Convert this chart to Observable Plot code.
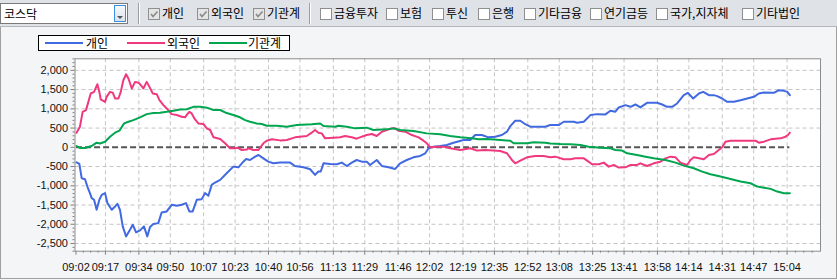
<!DOCTYPE html>
<html><head><meta charset="utf-8">
<script src="https://cdn.jsdelivr.net/npm/d3@7"></script>
<script src="https://cdn.jsdelivr.net/npm/@observablehq/plot@0.6"></script>
<style>
body{margin:0;width:837px;height:280px;overflow:hidden;position:relative;background:#f4f5f7;font-family:"Noto Sans CJK KR","Noto Sans",sans-serif;}
#toolbar{position:absolute;left:0;top:0;width:837px;height:26px;background:#dfe2e7;border-bottom:1px solid #b4b8be;}
.cb{position:absolute;top:8px;width:10px;height:10px;border:1px solid #8f8f8f;background:#fff;}
.cb.on{background:#e4e4e4;}
.cb svg{position:absolute;left:0;top:0;}
.lbl{position:absolute;top:4px;font-size:12px;line-height:18px;color:#000;white-space:nowrap;}
.sep{position:absolute;top:3px;width:1px;height:21px;background:#9a9ea4;border-right:1px solid #fff;}
#combo{position:absolute;left:0;top:3px;width:126px;height:19px;border:1px solid #7a7a7a;background:#fff;}
#combo .t{position:absolute;left:3px;top:0;font-size:12px;line-height:19px;}
#combo .btn{position:absolute;right:1px;top:1px;width:10px;height:15px;border:1px solid #3d8ee0;background:linear-gradient(#f6f9fc,#d9e2ec);}
#panel{position:absolute;left:0;top:27px;width:835px;height:251px;border:1px solid #a0a0a0;border-top:none;}
#chart{position:absolute;left:0;top:27px;}
#legend{position:absolute;left:38px;top:35px;width:250px;height:14px;border:1px solid #000;background:#fff;}
#legend .ln{position:absolute;top:6px;width:38px;height:2px;}
#legend .tx{position:absolute;top:-2px;font-size:12px;line-height:17px;color:#000;white-space:nowrap;}
</style>
</head><body>
<div id="toolbar">
  <div id="combo"><span class="t">코스닥</span><div class="btn"><svg width="10" height="15"><path d="M2 6 L8 6 L5 9 Z" fill="#555"/></svg></div></div>
  <div class="sep" style="left:138px"></div>
  <div id="filters"></div>
  <div class="sep" style="left:309px"></div>
</div>
<div id="panel"></div>
<div id="chart"></div>
<div id="legend"></div>
<script>
// ---- data ----
const seriesNames = ["개인", "외국인", "기관계"];
// [minutes after 09:00, net amount]
const individual = [[2.3,-390],[3.7,-430],[4.9,-803],[6.6,-830],[7.8,-1020],[9.1,-1191],[10.0,-1321],[11.2,-1364],[12.5,-1624],[13.9,-1364],[15.1,-1235],[16.8,-1191],[18.0,-1450],[20.2,-1624],[21.9,-1537],[23.1,-1468],[24.4,-1624],[25.8,-2056],[27.5,-2315],[29.5,-2142],[30.9,-2013],[32.6,-2211],[34.6,-2160],[36.6,-2056],[38.3,-2315],[39.7,-2073],[41.4,-1995],[43.9,-1970],[45.6,-1693],[48.2,-1667],[50.7,-1494],[53.3,-1520],[55.8,-1494],[58.0,-1450],[59.7,-1667],[61.4,-1667],[63.5,-1364],[66.0,-1347],[67.7,-1191],[69.4,-1260],[71.1,-976],[72.8,-916],[75.4,-847],[78.7,-673],[82.1,-502],[84.7,-520],[87.2,-373],[88.6,-305],[90.6,-330],[93.2,-243],[94.9,-200],[97.4,-287],[99.9,-373],[102.5,-416],[105.9,-398],[111.0,-398],[113.5,-485],[117.8,-520],[121.2,-570],[123.7,-717],[125.4,-630],[126.6,-630],[128.0,-416],[131.4,-433],[134.8,-442],[137.3,-398],[139.9,-485],[142.4,-398],[144.9,-330],[147.5,-373],[150.0,-373],[151.7,-459],[155.1,-330],[157.7,-485],[161.1,-520],[164.5,-563],[167.0,-416],[170.4,-330],[173.8,-260],[177.2,-225],[179.8,-155],[181.5,-26],[184.0,17],[187.4,34],[190.8,60],[194.2,120],[199.3,190],[202.7,190],[205.2,319],[208.6,319],[212.0,259],[215.4,276],[218.8,319],[221.4,406],[223.1,552],[225.6,690],[228.2,690],[230.7,600],[233.3,535],[240.9,535],[243.4,578],[247.7,578],[250.3,665],[255.4,665],[257.1,640],[260.5,665],[263.9,837],[267.3,862],[271.5,855],[274.1,950],[276.6,925],[278.3,1036],[281.7,1096],[284.3,1052],[286.8,1113],[289.3,1036],[292.7,1156],[297.8,1156],[300.4,1113],[302.9,1052],[305.5,1052],[308.0,1139],[311.4,1355],[313.5,1415],[316.2,1268],[319.1,1398],[321.3,1441],[324.2,1355],[326.7,1355],[328.4,1329],[330.9,1268],[333.5,1182],[336.9,1182],[340.3,1225],[343.7,1268],[347.1,1312],[349.6,1398],[352.2,1424],[357.3,1415],[359.8,1484],[362.4,1467],[364.1,1441],[365.4,1355]];
const foreign = [[2.3,378],[4.0,534],[5.4,922],[7.1,966],[8.3,1181],[9.5,1398],[11.2,1440],[12.9,1639],[13.9,1440],[14.6,1243],[16.8,1181],[17.6,1311],[19.3,1440],[20.7,1420],[21.9,1269],[23.6,1269],[24.8,1440],[26.1,1743],[27.5,1898],[28.7,1787],[30.4,1528],[32.1,1700],[33.8,1680],[34.6,1640],[36.3,1528],[38.0,1700],[39.4,1570],[41.1,1398],[43.1,1380],[44.5,1225],[46.5,1096],[48.2,1010],[50.7,862],[53.3,840],[55.8,793],[57.5,780],[58.4,840],[59.7,922],[60.9,880],[62.6,725],[64.3,621],[66.9,605],[68.6,492],[70.3,450],[72.0,259],[75.4,215],[77.9,104],[80.4,-26],[83.0,-26],[84.2,-10],[86.4,-70],[88.9,-60],[89.8,-26],[92.3,-70],[94.9,-70],[97.4,104],[99.1,172],[101.7,207],[105.9,180],[109.3,190],[113.5,259],[119.5,294],[122.0,380],[123.7,450],[125.4,380],[127.1,362],[128.8,233],[133.1,250],[136.5,259],[139.0,294],[142.4,259],[144.9,224],[147.5,276],[150.0,319],[152.6,345],[155.1,294],[157.7,406],[160.2,450],[162.8,492],[164.5,492],[166.2,432],[169.6,406],[173.0,319],[176.4,259],[178.9,172],[180.6,104],[182.3,0],[185.7,17],[189.1,17],[192.5,-26],[197.6,-70],[202.7,-26],[206.1,-86],[210.3,-70],[214.6,-86],[218.0,-95],[221.4,-155],[223.9,-329],[225.6,-415],[228.2,-347],[231.6,-260],[235.8,-225],[240.0,-225],[243.5,-260],[246.0,-243],[250.3,-312],[253.7,-312],[256.2,-286],[260.5,-286],[262.2,-347],[264.7,-441],[268.1,-441],[270.7,-398],[273.2,-502],[275.8,-459],[278.3,-528],[281.7,-520],[284.3,-459],[287.6,-459],[289.3,-416],[292.7,-485],[296.1,-416],[299.5,-373],[302.1,-287],[304.6,-243],[307.2,-260],[309.7,-398],[313.1,-459],[314.8,-330],[316.5,-260],[319.1,-287],[321.6,-312],[324.2,-200],[326.7,-173],[329.2,-70],[331.0,0],[332.6,147],[335.2,172],[342.0,172],[347.9,172],[349.6,120],[352.2,147],[355.6,207],[360.7,233],[363.2,276],[364.4,319],[365.4,380]];
const institution = [[2.3,34],[4.0,-18],[6.6,-18],[10.0,34],[12.5,120],[14.2,100],[16.8,146],[19.3,276],[21.9,380],[24.1,432],[26.5,621],[28.7,665],[31.2,707],[34.6,777],[38.0,862],[41.4,890],[44.8,900],[48.2,922],[51.6,950],[55.0,984],[58.4,990],[61.8,1052],[65.2,1052],[68.6,1030],[72.0,970],[75.4,970],[78.7,890],[82.1,840],[85.5,780],[88.1,707],[90.6,665],[94.0,620],[96.6,605],[99.1,560],[104.2,560],[109.3,535],[114.4,578],[122.0,600],[126.3,620],[128.0,552],[133.9,535],[135.6,560],[139.9,535],[144.1,492],[150.0,510],[153.4,450],[160.2,466],[163.6,492],[167.0,450],[173.8,423],[180.6,362],[187.4,337],[192.5,294],[197.6,259],[203.5,233],[206.9,207],[211.2,215],[218.0,190],[223.1,172],[224.8,104],[231.6,104],[235.0,130],[240.9,120],[243.5,100],[248.6,86],[253.7,78],[258.8,60],[263.0,17],[269.0,-9],[274.1,-26],[276.6,-70],[280.0,-86],[282.6,-155],[287.6,-200],[291.9,-243],[296.1,-287],[302.1,-330],[307.2,-398],[311.4,-476],[316.5,-545],[320.8,-632],[325.0,-700],[330.1,-761],[335.2,-822],[340.3,-890],[345.4,-934],[348.8,-1020],[355.6,-1080],[359.0,-1150],[362.4,-1194],[365.4,-1194]];
const tickLabels = ["09:02","09:17","09:34","09:50","10:07","10:23","10:40","10:56","11:13","11:29","11:46","12:02","12:19","12:35","12:52","13:08","13:25","13:41","13:58","14:14","14:31","14:47","15:04"];
const yTicks = [-2500,-2000,-1500,-1000,-500,0,500,1000,1500,2000];
const filterLabels = ["개인","외국인","기관계","금융투자","보험","투신","은행","기타금융","연기금등","국가,지자체","기타법인"];
const filterChecked = [true,true,true,false,false,false,false,false,false,false,false];

// ---- styles ----
const palette = ["#4169e1", "#f0387f", "#00a54f"];
const filterLeft = [148,197,253,320,386,432,478,524,590,656,742];
const X_DOMAIN = [1.5, 381];
const Y_DOMAIN = [-2700, 2300];

// ---- toolbar ----
const filters = document.getElementById("filters");
filterLabels.forEach((name, i) => {
  const cb = document.createElement("div");
  cb.className = "cb" + (filterChecked[i] ? " on" : "");
  cb.style.left = filterLeft[i] + "px";
  if (filterChecked[i]) cb.innerHTML = '<svg width="10" height="10"><path d="M2 5 L4 7.5 L8.5 2.5" fill="none" stroke="#8a8a8a" stroke-width="1.6"/></svg>';
  filters.appendChild(cb);
  const t = document.createElement("span");
  t.className = "lbl";
  t.style.left = (filterLeft[i] + 14) + "px";
  t.textContent = name;
  filters.appendChild(t);
});

// ---- legend ----
const legend = document.getElementById("legend");
seriesNames.forEach((name, i) => {
  const ln = document.createElement("div");
  ln.className = "ln";
  ln.style.left = (6 + i * 82) + "px";
  ln.style.background = palette[i];
  legend.appendChild(ln);
  const tx = document.createElement("span");
  tx.className = "tx";
  tx.style.left = (47 + i * 81) + "px";
  tx.textContent = name;
  legend.appendChild(tx);
});

// ---- chart ----
const toMin = s => { const [h, m] = s.split(":").map(Number); return (h - 9) * 60 + m; };
const tickMinutes = tickLabels.map(toMin);
const labelByMinute = new Map(tickMinutes.map((m, i) => [m, tickLabels[i]]));
const minorX = [];
for (let i = 0; i < tickMinutes.length - 1; i++) {
  const a = tickMinutes[i], b = tickMinutes[i + 1];
  for (let k = 1; k < 4; k++) minorX.push(a + (b - a) * k / 4);
}
{
  const n = tickMinutes.length, step = (tickMinutes[n - 1] - tickMinutes[n - 2]) / 4;
  for (let v = tickMinutes[n - 1] + step; v < X_DOMAIN[1]; v += step) minorX.push(v);
}
const minorY = d3.range(Y_DOMAIN[0], Y_DOMAIN[1] + 1, 100).filter(v => !yTicks.includes(v));

const seriesData = [individual, foreign, institution];
const rows = seriesData.flatMap((arr, i) => arr.map(([minute, value]) => ({series: seriesNames[i], minute, value})));
const xStart = d3.min(rows, d => d.minute), xEnd = d3.max(rows, d => d.minute);
const fmt = d => d3.format(",")(d).replace("\u2212", "-");

const chart = Plot.plot({
  width: 837, height: 253,
  marginLeft: 74.5, marginRight: 17, marginTop: 31.3, marginBottom: 29.3,
  x: {domain: X_DOMAIN, label: null},
  y: {domain: Y_DOMAIN, label: null},
  color: {domain: seriesNames, range: palette},
  style: {background: "transparent", fontFamily: "'Liberation Sans', Arial, sans-serif", fontSize: "11px", color: "#111", overflow: "visible"},
  marks: [
    Plot.frame({fill: "#fff", stroke: null}),
    Plot.gridY(yTicks.filter(v => v !== 0), {stroke: "#c4c4c4", strokeOpacity: 1, strokeDasharray: "4,3"}),
    Plot.gridX(tickMinutes.slice(1), {stroke: "#c4c4c4", strokeOpacity: 1, strokeDasharray: "4,3"}),
    Plot.ruleY([0], {x1: xStart, x2: xEnd, stroke: "#555", strokeWidth: 2, strokeDasharray: "6,3"}),
    Plot.line(rows, {x: "minute", y: "value", z: "series", stroke: "series", strokeWidth: 2}),
    Plot.axisY({ticks: minorY, tickSize: 2, tickFormat: () => "", stroke: "#808080", label: null}),
    Plot.axisY({ticks: yTicks, tickSize: 4, tickPadding: 3, tickFormat: fmt, stroke: "#808080", fill: "#111", label: null}),
    Plot.axisX({ticks: minorX, tickSize: 2, tickFormat: () => "", stroke: "#808080", label: null}),
    Plot.axisX({ticks: tickMinutes, tickSize: 4, tickPadding: 8, tickFormat: d => labelByMinute.get(d), stroke: "#808080", fill: "#111", label: null}),
    Plot.frame({stroke: "#8c8c8c"})
  ]
});
document.getElementById("chart").appendChild(chart);
</script>
</body></html>
